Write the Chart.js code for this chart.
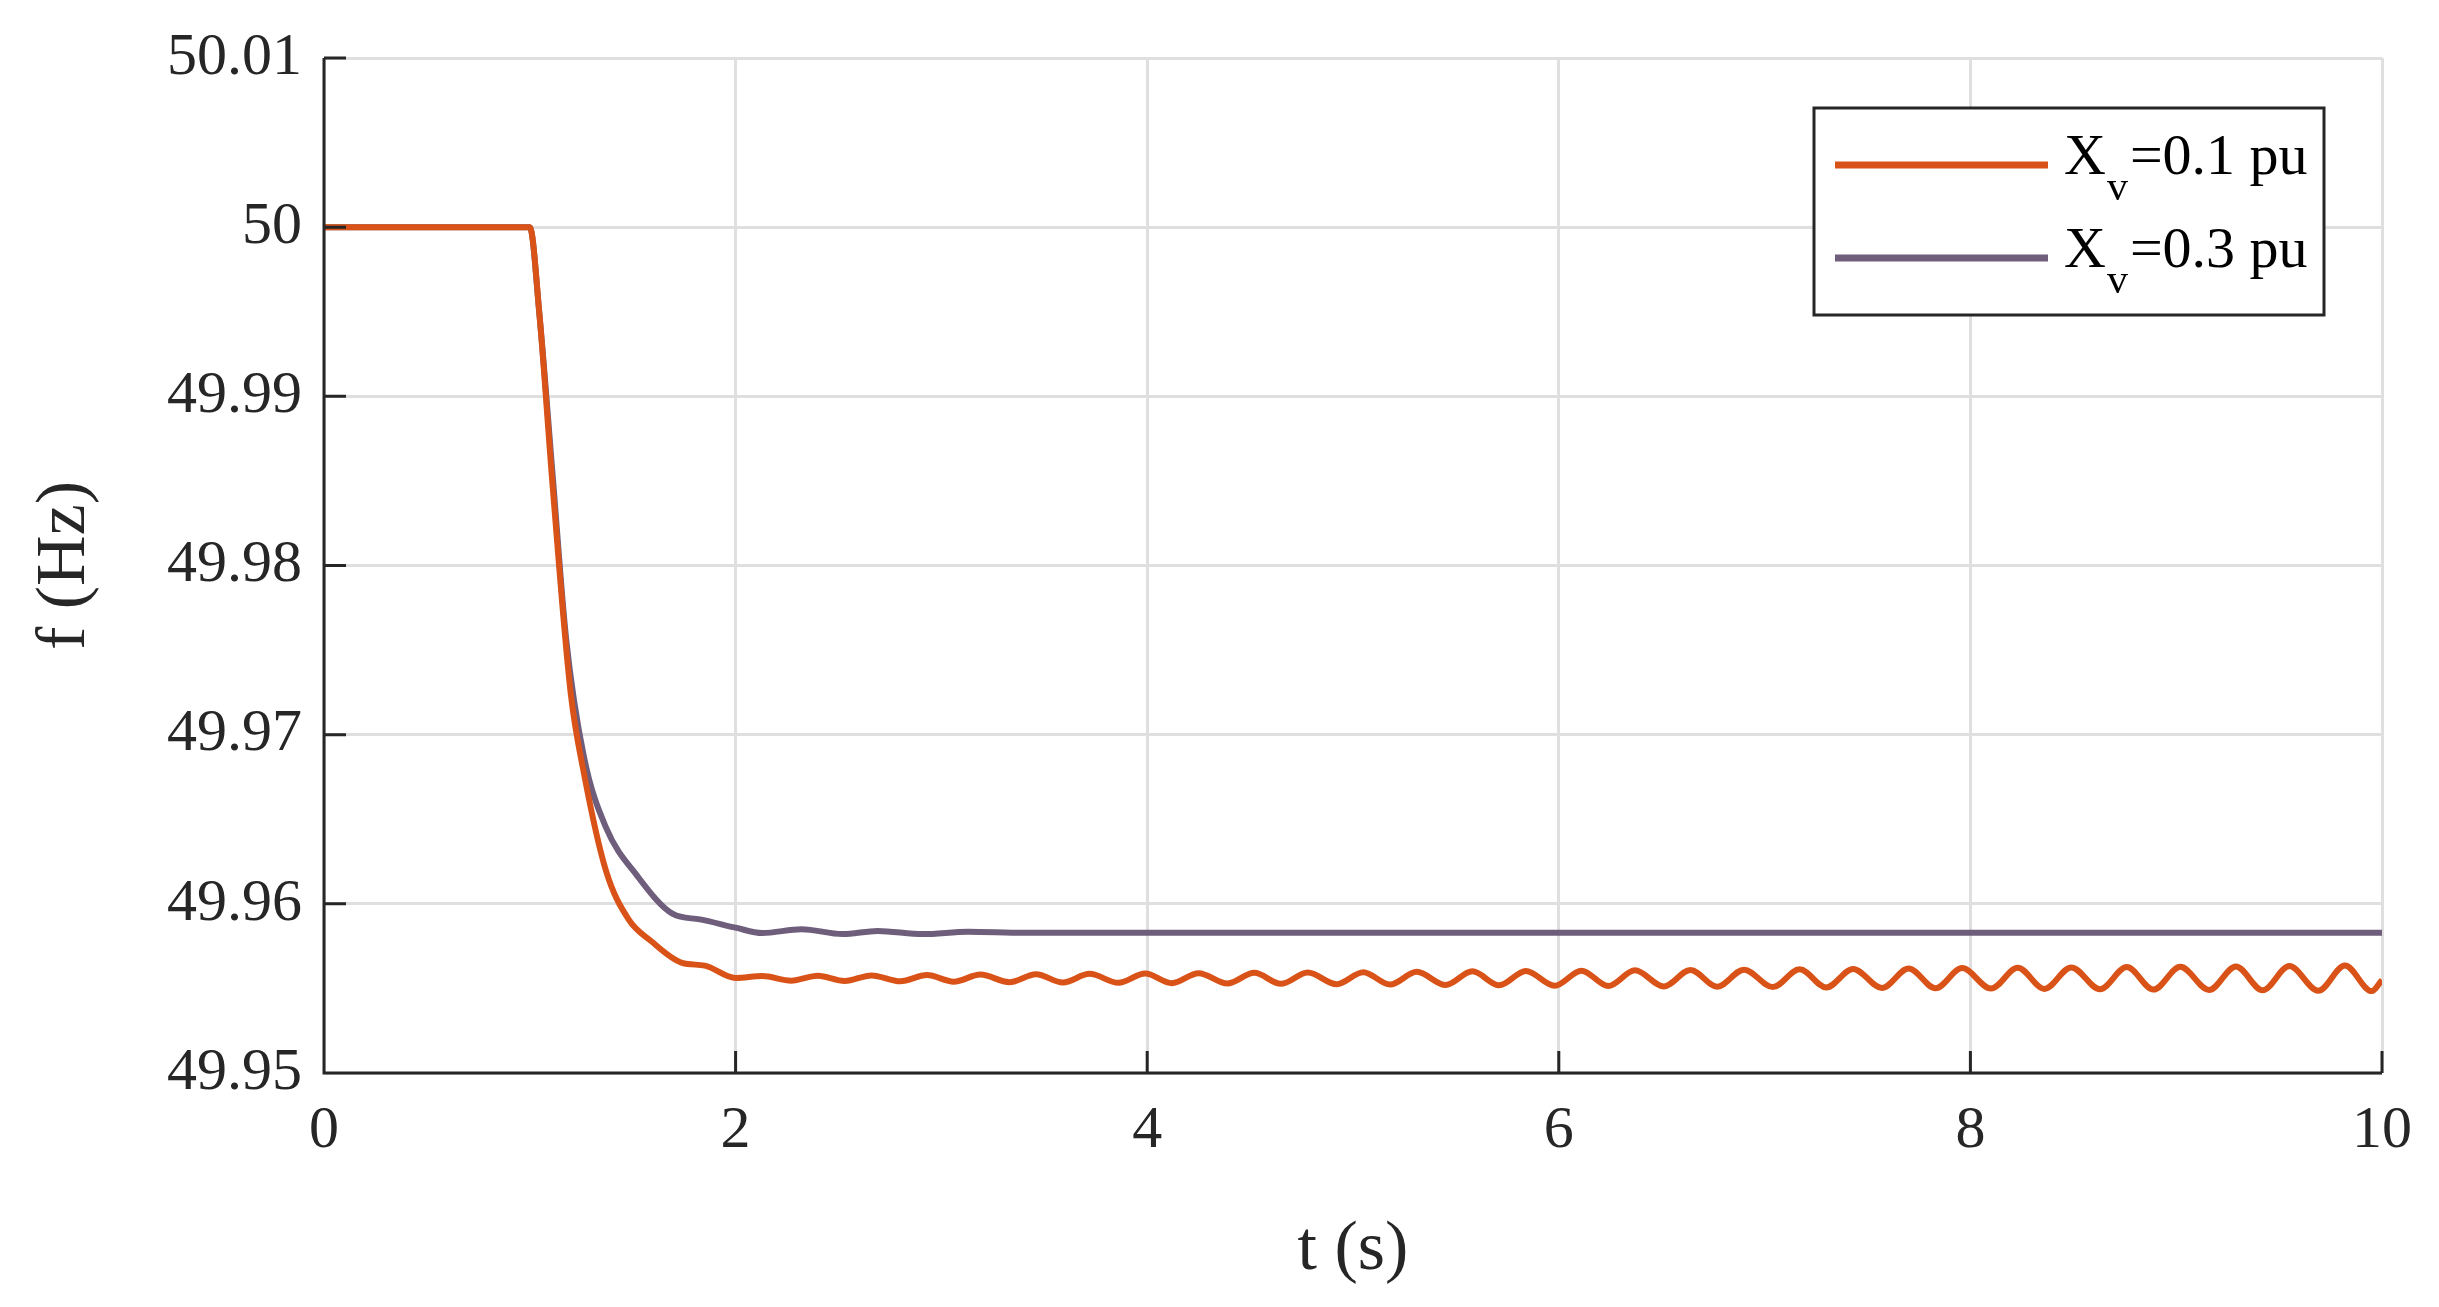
<!DOCTYPE html>
<html><head><meta charset="utf-8">
<script src="https://cdn.jsdelivr.net/npm/chart.js@4"></script>
<style>html,body{margin:0;padding:0;background:#fff;}canvas{display:block;}</style>
</head><body>
<canvas id="c" width="2439" height="1307"></canvas>
<script>
const xTicks = [0, 2, 4, 6, 8, 10];
const yTicks = [49.95, 49.96, 49.97, 49.98, 49.99, 50, 50.01];
const seriesNames = ['=0.1 pu', '=0.3 pu'];
const tRed = [0, 1.0, 1.046, 1.111, 1.198, 1.263, 1.37, 1.48, 1.589, 1.74, 1.85, 2.0,
  2.13, 2.27, 2.40, 2.53, 2.66, 2.80, 2.93, 3.06, 3.19, 3.33, 3.46, 3.59, 3.72, 3.86, 3.99,
  4.12, 4.25, 4.39, 4.52, 4.65, 4.78, 4.92, 5.05, 5.18, 5.31, 5.45, 5.58, 5.71, 5.84, 5.98,
  6.11, 6.24, 6.37, 6.51, 6.64, 6.77, 6.90, 7.04, 7.17, 7.30, 7.43, 7.57, 7.70, 7.83, 7.96,
  8.10, 8.23, 8.36, 8.49, 8.63, 8.76, 8.89, 9.02, 9.16, 9.29, 9.42, 9.55, 9.69, 9.82, 9.95, 10.0];
const fRed = [50, 50, 49.99495, 49.9847, 49.97253, 49.96772, 49.96196, 49.95908, 49.9578, 49.95651, 49.95635, 49.95562,
  49.95573, 49.95546, 49.95575, 49.95544, 49.95577, 49.95542, 49.95579, 49.9554, 49.95582, 49.95537, 49.95584, 49.95535, 49.95586, 49.95533, 49.95588,
  49.95531, 49.9559, 49.95529, 49.95592, 49.95527, 49.95594, 49.95525, 49.95596, 49.95523, 49.95598, 49.9552, 49.95601, 49.95518, 49.95603, 49.95516,
  49.95605, 49.95514, 49.95607, 49.95512, 49.95609, 49.9551, 49.95611, 49.95508, 49.95613, 49.95506, 49.95615, 49.95503, 49.95618, 49.95501, 49.9562,
  49.95499, 49.95622, 49.95497, 49.95624, 49.95495, 49.95626, 49.95493, 49.95628, 49.95491, 49.9563, 49.95489, 49.95632, 49.95486, 49.95635, 49.95484, 49.9555];
const tPurple = [0, 1.0, 1.046, 1.111, 1.176, 1.263, 1.37, 1.523, 1.695, 1.827, 2.0, 2.13, 2.32, 2.52, 2.69, 2.91, 3.13, 3.4, 10.0];
const fPurple = [50, 50, 49.99495, 49.98534, 49.97573, 49.96869, 49.96452, 49.96164, 49.9594, 49.95908, 49.95859, 49.95827, 49.9585, 49.95821, 49.9584, 49.95821, 49.95835, 49.95829, 49.95829];
const colors = ['#D95319', '#6E5E7C'];

const SERIF = '"Liberation Serif", "DejaVu Serif", serif';
const toPts = (t, f) => t.map((x, i) => ({x, y: f[i]}));

const deco = {
  id: 'deco',
  afterDraw(chart) {
    const ctx = chart.ctx, a = chart.chartArea, xs = chart.scales.x, ys = chart.scales.y;
    ctx.save();
    ctx.strokeStyle = '#262626'; ctx.lineWidth = 3;
    ctx.beginPath();
    ctx.moveTo(a.left, a.top); ctx.lineTo(a.left, a.bottom); ctx.lineTo(a.right, a.bottom);
    xTicks.forEach(v => { const p = xs.getPixelForValue(v); ctx.moveTo(p, a.bottom); ctx.lineTo(p, a.bottom - 22); });
    yTicks.forEach(v => { const p = ys.getPixelForValue(v); ctx.moveTo(a.left, p); ctx.lineTo(a.left + 22, p); });
    ctx.stroke();
    // legend
    const bx = 1814, by = 108, bw = 510, bh = 207;
    ctx.fillStyle = '#fff'; ctx.fillRect(bx, by, bw, bh);
    ctx.lineWidth = 3; ctx.strokeStyle = '#262626'; ctx.strokeRect(bx, by, bw, bh);
    const rows = [165, 258];
    rows.forEach((y, i) => {
      ctx.strokeStyle = colors[i]; ctx.lineWidth = 7;
      ctx.beginPath(); ctx.moveTo(1835, y); ctx.lineTo(2048, y); ctx.stroke();
      ctx.fillStyle = '#000'; ctx.textBaseline = 'alphabetic'; ctx.textAlign = 'left';
      ctx.font = '58px ' + SERIF;
      ctx.fillText('X', 2064, y + 9);
      const wX = ctx.measureText('X').width;
      ctx.font = '42px ' + SERIF;
      ctx.fillText('v', 2064 + wX + 1, y + 35);
      const wv = ctx.measureText('v').width;
      ctx.font = '58px ' + SERIF;
      ctx.fillText(seriesNames[i], 2064 + wX + wv + 3, y + 9);
    });
    ctx.restore();
  }
};

new Chart(document.getElementById('c'), {
  type: 'line',
  data: { datasets: [
    { label: 'Xv=0.1 pu', data: toPts(tRed, fRed), borderColor: colors[0], borderWidth: 6, pointRadius: 0, cubicInterpolationMode: 'monotone', fill: false },
    { label: 'Xv=0.3 pu', data: toPts(tPurple, fPurple), borderColor: colors[1], borderWidth: 6, pointRadius: 0, cubicInterpolationMode: 'monotone', fill: false }
  ]},
  options: {
    responsive: false, animation: false, devicePixelRatio: 1,
    layout: { padding: { left: 20, right: 57, top: 58, bottom: 10 } },
    plugins: { legend: { display: false }, tooltip: { enabled: false } },
    scales: {
      x: { type: 'linear', min: 0, max: 10,
        afterBuildTicks: s => { s.ticks = xTicks.map(v => ({value: v})); },
        afterFit: s => { s.height = 1307 - 1073 - 10; },
        grid: { color: '#dfdfdf', lineWidth: 3, drawTicks: false },
        border: { display: false },
        ticks: { color: '#262626', font: { family: SERIF, size: 60 }, padding: 22, maxRotation: 0 },
        title: { display: true, text: 't (s)', color: '#262626', font: { family: SERIF, size: 70 }, padding: { top: 10 } } },
      y: { type: 'linear', min: 49.95, max: 50.01,
        afterBuildTicks: s => { s.ticks = yTicks.map(v => ({value: v})); },
        afterFit: s => { s.width = 324 - 20; },
        grid: { color: '#dfdfdf', lineWidth: 3, drawTicks: false },
        border: { display: false },
        ticks: { color: '#262626', font: { family: SERIF, size: 60 }, padding: 22, callback: v => String(+v.toFixed(2)) },
        title: { display: true, text: 'f (Hz)', color: '#262626', font: { family: SERIF, size: 70 }, padding: { bottom: 10 } } }
    }
  },
  plugins: [deco]
});
</script>
</body></html>
